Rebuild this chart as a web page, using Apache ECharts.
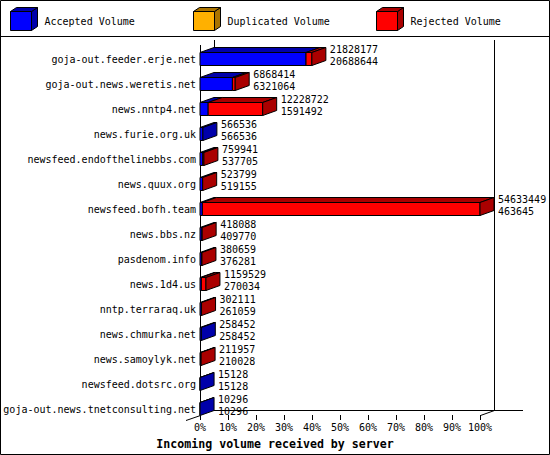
<!DOCTYPE html>
<html>
<head>
<meta charset="utf-8">
<script src="https://cdn.jsdelivr.net/npm/echarts@6/dist/echarts.min.js"></script>
<style>
html,body{margin:0;padding:0;background:#fff;}
#chart{width:550px;height:455px;}
</style>
</head>
<body>
<div id="chart"></div>
<script>
// ---- data ----
const servers = [
  'goja-out.feeder.erje.net',
  'goja-out.news.weretis.net',
  'news.nntp4.net',
  'news.furie.org.uk',
  'newsfeed.endofthelinebbs.com',
  'news.quux.org',
  'newsfeed.bofh.team',
  'news.bbs.nz',
  'pasdenom.info',
  'news.1d4.us',
  'nntp.terraraq.uk',
  'news.chmurka.net',
  'news.samoylyk.net',
  'newsfeed.dotsrc.org',
  'goja-out.news.tnetconsulting.net'
];
const totalVolume = [21828177, 6868414, 12228722, 566536, 759941, 523799, 54633449, 418088, 380659, 1159529, 302111, 258452, 211957, 15128, 10296];
const acceptedVolume = [20688644, 6321064, 1591492, 566536, 537705, 519155, 463645, 409770, 376281, 270034, 261059, 258452, 210028, 15128, 10296];
const duplicatedVolume = [0, 0, 0, 0, 0, 0, 0, 0, 0, 0, 0, 0, 0, 0, 0];
const legendNames = ['Accepted Volume', 'Duplicated Volume', 'Rejected Volume'];
const percentTicks = [0, 10, 20, 30, 40, 50, 60, 70, 80, 90, 100];

// ---- styles ----
const FONT = '"DejaVu Sans Mono", "Liberation Mono", monospace';
const COL = {
  acc: '#0000ff', accDark: '#0000aa',
  dup: '#ffb000', dupDark: '#aa7400',
  rej: '#ff0000', rejDark: '#aa0000'
};
const DX = 14, DY = -5;

const maxTotal = Math.max.apply(null, totalVolume);
const rows = servers.map((s, i) => [
  acceptedVolume[i] / maxTotal * 100,
  i,
  totalVolume[i] / maxTotal * 100,
  totalVolume[i],
  acceptedVolume[i]
]);

function poly(points, fill) {
  return { type: 'polygon', shape: { points: points }, style: { fill: fill, stroke: '#000', lineWidth: 1 } };
}

function renderItem(params, api) {
  const i = api.value(1);
  const p0 = api.coord([0, i]);
  const pa = api.coord([api.value(0), i]);
  const pt = api.coord([api.value(2), i]);
  const cy = p0[1];
  const top = cy - 7, bot = cy + 6;
  const x0 = p0[0], xa = pa[0], xt = pt[0];
  const children = [];
  if (xa > x0) children.push(poly([[x0, top], [xa, top], [xa, bot], [x0, bot]], COL.acc));
  if (xt > xa) children.push(poly([[xa, top], [xt, top], [xt, bot], [xa, bot]], COL.rej));
  if (xa > x0) children.push(poly([[x0, top], [xa, top], [xa + DX, top + DY], [x0 + DX, top + DY]], COL.accDark));
  if (xt > xa) children.push(poly([[xa, top], [xt, top], [xt + DX, top + DY], [xa + DX, top + DY]], COL.rejDark));
  const sideCol = api.value(3) > api.value(4) ? COL.rejDark : COL.accDark;
  children.push(poly([[xt, top], [xt + DX, top + DY], [xt + DX, bot + DY], [xt, bot]], sideCol));
  children.push({ type: 'text', style: { text: String(api.value(3)), x: xt + 18, y: cy - 10, fill: '#000', font: '10px ' + FONT, verticalAlign: 'middle' } });
  children.push({ type: 'text', style: { text: String(api.value(4)), x: xt + 18, y: cy + 2, fill: '#000', font: '10px ' + FONT, verticalAlign: 'middle' } });
  return { type: 'group', children: children };
}

function cube(x, y, front, dark) {
  const w = 21, h = 19, dx = 6, dy = -4;
  return [
    { type: 'polygon', shape: { points: [[x + w, y], [x + w + dx, y + dy], [x + w + dx, y + h + dy], [x + w, y + h]] }, style: { fill: dark, stroke: '#000', lineWidth: 1 } },
    { type: 'polygon', shape: { points: [[x, y], [x + dx, y + dy], [x + w + dx, y + dy], [x + w, y]] }, style: { fill: dark, stroke: '#000', lineWidth: 1 } },
    { type: 'rect', shape: { x: x, y: y, width: w, height: h }, style: { fill: front, stroke: '#000', lineWidth: 1 } }
  ];
}
function line(x1, y1, x2, y2) {
  return { type: 'line', shape: { x1: x1, y1: y1, x2: x2, y2: y2 }, style: { stroke: '#000', lineWidth: 1 }, z: 1 };
}

const legendX = [10.5, 193.5, 376.5];
const legendCols = [[COL.acc, COL.accDark], [COL.dup, COL.dupDark], [COL.rej, COL.rejDark]];
let graphics = [
  { type: 'rect', shape: { x: 0.5, y: 0.5, width: 549, height: 454 }, style: { fill: 'none', stroke: '#000', lineWidth: 1 }, z: 1 },
  line(0, 36.5, 550, 36.5),
  line(200.5, 45, 200.5, 415),
  line(214.5, 40, 214.5, 48),
  line(494.5, 40, 494.5, 410.5),
  line(214, 410.5, 523, 410.5),
  line(480.5, 415.5, 494.5, 410.5),
  line(186, 420.5, 200.5, 415.5)
];
legendNames.forEach((n, k) => {
  graphics = graphics.concat(cube(legendX[k], 11.5, legendCols[k][0], legendCols[k][1]));
  graphics.push({ type: 'text', style: { text: n, x: legendX[k] + 34, y: 21, fill: '#000', font: '10px ' + FONT, verticalAlign: 'middle' }, z: 2 });
});

const chart = echarts.init(document.getElementById('chart'), null, { renderer: 'svg' });
chart.setOption({
  animation: false,
  backgroundColor: '#fff',
  title: {
    text: 'Incoming volume received by server',
    left: 'center', top: 433,
    textStyle: { fontFamily: FONT, fontSize: 11.6, fontWeight: 'bold', color: '#000' }
  },
  grid: { left: 200, right: 70, top: 47, height: 375 },
  xAxis: {
    type: 'value', min: 0, max: 100, interval: 10,
    offset: -7,
    axisLine: { show: false },
    axisTick: { show: true, length: 5, lineStyle: { color: '#000' } },
    splitLine: { show: false },
    axisLabel: {
      margin: 7, color: '#000', fontFamily: FONT, fontSize: 10,
      formatter: v => percentTicks.indexOf(v) >= 0 ? v + '%' : ''
    }
  },
  yAxis: {
    type: 'category', data: servers, inverse: true,
    axisLine: { show: false }, axisTick: { show: false }, splitLine: { show: false },
    axisLabel: { margin: 4, color: '#000', fontFamily: FONT, fontSize: 10 }
  },
  series: [{
    type: 'custom',
    name: 'volume',
    renderItem: renderItem,
    encode: { x: [0, 2], y: 1 },
    data: rows,
    z: 3
  }],
  graphic: graphics
});
</script>
</body>
</html>
